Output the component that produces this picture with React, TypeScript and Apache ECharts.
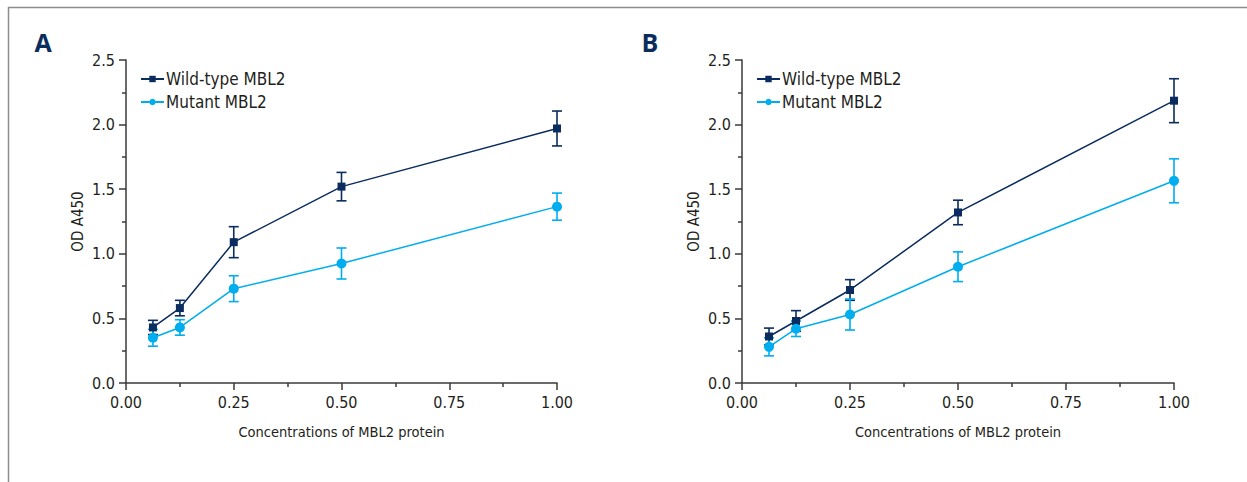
import React, { useEffect, useRef } from "react";
import * as echarts from "echarts";

const concentrations = [0.0625, 0.125, 0.25, 0.5, 1.0];
const xTicks = [0, 0.25, 0.5, 0.75, 1.0];
const yTicks = [0, 0.5, 1.0, 1.5, 2.0, 2.5];

const wildA = [0.43, 0.58, 1.09, 1.52, 1.97];
const wildAErr = [0.055, 0.06, 0.12, 0.11, 0.135];
const mutA = [0.35, 0.43, 0.73, 0.925, 1.365];
const mutAErr = [0.065, 0.06, 0.1, 0.12, 0.105];

const wildB = [0.36, 0.48, 0.72, 1.32, 2.185];
const wildBErr = [0.065, 0.08, 0.08, 0.095, 0.17];
const mutB = [0.28, 0.42, 0.53, 0.9, 1.565];
const mutBErr = [0.07, 0.06, 0.12, 0.115, 0.17];

const WILD_NAME = "Wild-type MBL2";
const MUT_NAME = "Mutant MBL2";
const WILD_COLOR = "#0a2c5e";
const MUT_COLOR = "#00adef";
const FONT = "'Liberation Sans Narrow', 'DejaVu Sans Condensed', 'Arial Narrow', sans-serif";
const TEXT_COLOR = "#231f20";
const AXIS_COLOR = "#3a3a3a";

function pairs(ys: number[]) {
  return concentrations.map((x, i) => [x, ys[i]]);
}
function errData(ys: number[], es: number[]) {
  return concentrations.map((x, i) => [x, ys[i], es[i]]);
}

function errorSeries(ys: number[], es: number[], color: string, idx: number) {
  return {
    type: "custom",
    xAxisIndex: idx,
    yAxisIndex: idx,
    z: 1,
    silent: true,
    data: errData(ys, es),
    renderItem: (params: any, api: any) => {
      const x = api.value(0);
      const m = api.value(1);
      const e = api.value(2);
      const top = api.coord([x, m + e]);
      const bot = api.coord([x, m - e]);
      const hw = 5;
      const style = { stroke: color, lineWidth: 1.6 };
      return {
        type: "group",
        children: [
          { type: "line", shape: { x1: top[0], y1: top[1], x2: bot[0], y2: bot[1] }, style },
          { type: "line", shape: { x1: top[0] - hw, y1: top[1], x2: top[0] + hw, y2: top[1] }, style },
          { type: "line", shape: { x1: bot[0] - hw, y1: bot[1], x2: bot[0] + hw, y2: bot[1] }, style },
        ],
      };
    },
  };
}

function lineSeries(name: string, ys: number[], color: string, symbol: string, size: number, idx: number) {
  return {
    type: "line",
    name,
    xAxisIndex: idx,
    yAxisIndex: idx,
    z: 3,
    data: pairs(ys),
    symbol,
    symbolSize: size,
    showSymbol: true,
    lineStyle: { color, width: 1.5 },
    itemStyle: { color },
  };
}

function xAxis(idx: number) {
  return {
    type: "value",
    gridIndex: idx,
    min: xTicks[0],
    max: xTicks[xTicks.length - 1],
    interval: 0.25,
    name: "Concentrations of MBL2 protein",
    nameLocation: "middle",
    nameGap: 41,
    nameTextStyle: { fontFamily: FONT, fontSize: 14.5, color: TEXT_COLOR },
    axisLine: { show: true, onZero: false, lineStyle: { color: AXIS_COLOR, width: 1.5 } },
    axisTick: { show: true, length: 7, lineStyle: { color: AXIS_COLOR, width: 1.5 } },
    minorTick: { show: true, splitNumber: 2, length: 4, lineStyle: { color: AXIS_COLOR, width: 1.5 } },
    splitLine: { show: false },
    axisLabel: {
      margin: 11,
      fontFamily: FONT,
      fontSize: 16,
      color: TEXT_COLOR,
      formatter: (v: number) => v.toFixed(2),
    },
  };
}

function yAxis(idx: number) {
  return {
    type: "value",
    gridIndex: idx,
    min: yTicks[0],
    max: yTicks[yTicks.length - 1],
    interval: 0.5,
    name: "OD A450",
    nameLocation: "middle",
    nameGap: 41,
    nameRotate: 90,
    nameTextStyle: { fontFamily: FONT, fontSize: 15, color: TEXT_COLOR },
    axisLine: { show: true, onZero: false, lineStyle: { color: AXIS_COLOR, width: 1.5 } },
    axisTick: { show: true, length: 7, lineStyle: { color: AXIS_COLOR, width: 1.5 } },
    minorTick: { show: true, splitNumber: 2, length: 4, lineStyle: { color: AXIS_COLOR, width: 1.5 } },
    splitLine: { show: false },
    axisLabel: {
      margin: 11,
      fontFamily: FONT,
      fontSize: 16,
      color: TEXT_COLOR,
      formatter: (v: number) => v.toFixed(1),
    },
  };
}

function legend(left: number) {
  return {
    data: [WILD_NAME, MUT_NAME],
    orient: "vertical",
    left,
    top: 65,
    itemWidth: 23,
    itemHeight: 8,
    itemGap: 5,
    selectedMode: false,
    textStyle: { fontFamily: FONT, fontSize: 17, color: TEXT_COLOR, lineHeight: 18, padding: [0, 0, 0, -3] },
  };
}

export default function App() {
  const ref = useRef<HTMLDivElement>(null);
  useEffect(() => {
    if (!ref.current) return;
    const chart = echarts.init(ref.current, undefined, { renderer: "svg" });
    chart.setOption({
      animation: false,
      backgroundColor: "#ffffff",
      grid: [
        { left: 126, top: 60, width: 431, height: 323 },
        { left: 742, top: 60, width: 432, height: 323 },
      ],
      xAxis: [xAxis(0), xAxis(1)],
      yAxis: [yAxis(0), yAxis(1)],
      legend: [legend(135), legend(751)],
      graphic: [
        { type: "line", shape: { x1: 8, y1: 7.5, x2: 1247, y2: 7.5 }, style: { stroke: "#8c8c8c", lineWidth: 1.5 } },
        { type: "line", shape: { x1: 8.5, y1: 7, x2: 8.5, y2: 482 }, style: { stroke: "#8c8c8c", lineWidth: 1.5 } },
        {
          type: "text",
          x: 43,
          y: 42,
          style: {
            text: "A",
            fontFamily: "'Open Sans', 'Liberation Sans', sans-serif",
            fontWeight: "bold",
            fontSize: 25,
            fill: "#0b2d5c",
            align: "center",
            verticalAlign: "middle",
          },
        },
        {
          type: "text",
          x: 650,
          y: 42,
          style: {
            text: "B",
            fontFamily: "'Open Sans', 'Liberation Sans', sans-serif",
            fontWeight: "bold",
            fontSize: 25,
            fill: "#0b2d5c",
            align: "center",
            verticalAlign: "middle",
          },
        },
      ],
      series: [
        errorSeries(wildA, wildAErr, WILD_COLOR, 0),
        errorSeries(mutA, mutAErr, MUT_COLOR, 0),
        lineSeries(WILD_NAME, wildA, WILD_COLOR, "rect", 8, 0),
        lineSeries(MUT_NAME, mutA, MUT_COLOR, "circle", 10, 0),
        errorSeries(wildB, wildBErr, WILD_COLOR, 1),
        errorSeries(mutB, mutBErr, MUT_COLOR, 1),
        lineSeries(WILD_NAME, wildB, WILD_COLOR, "rect", 8, 1),
        lineSeries(MUT_NAME, mutB, MUT_COLOR, "circle", 10, 1),
      ],
    });
    return () => chart.dispose();
  }, []);
  return (
    <div
      ref={ref}
      style={{ position: "fixed", left: 0, top: 0, width: 1247, height: 482, background: "#fff" }}
    />
  );
}
